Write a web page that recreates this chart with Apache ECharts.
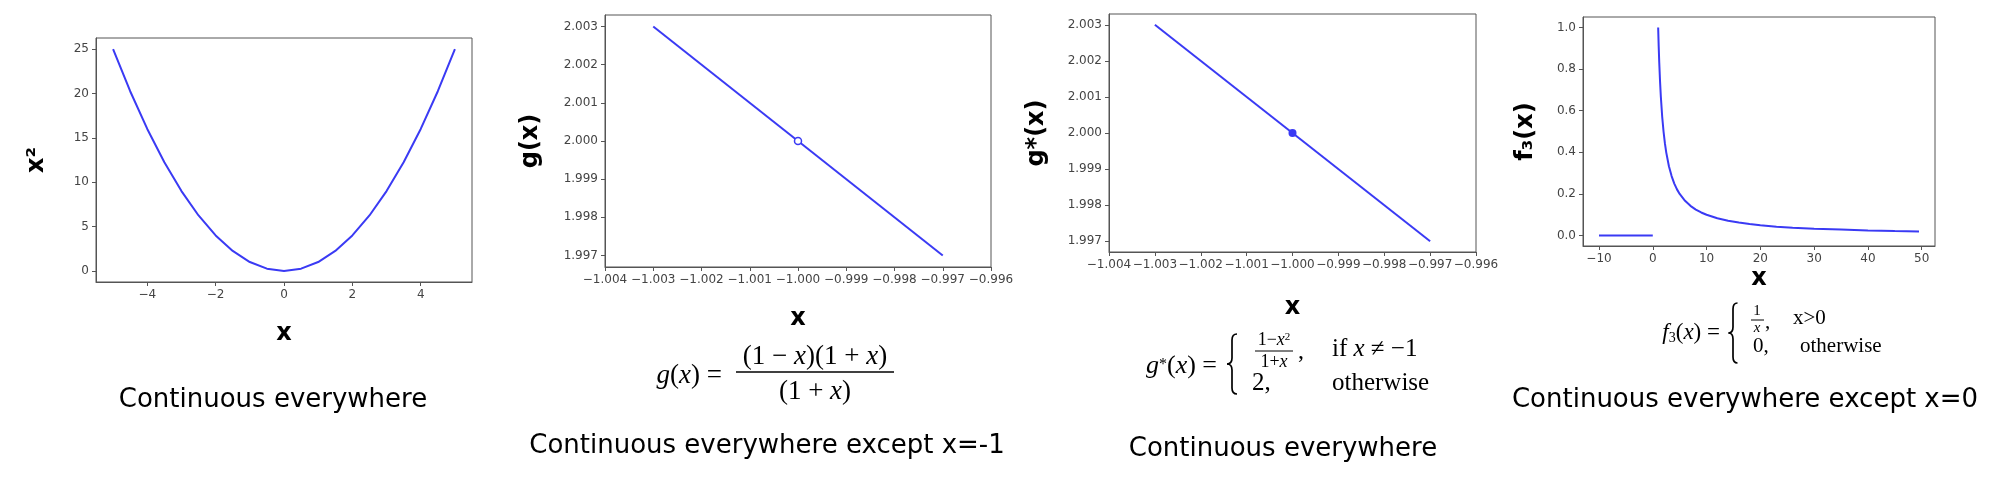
<!DOCTYPE html>
<html>
<head>
<meta charset="utf-8">
<script src="https://cdn.jsdelivr.net/npm/echarts@6/dist/echarts.min.js"></script>
<style>
  html, body { margin: 0; padding: 0; background: #fff; }
  #chart { width: 2014px; height: 480px; }
</style>
</head>
<body>
<div id="chart"></div>
<script>
// ---------------- data ----------------
// Panel 1: x^2
const p1X = [-5, -4.5, -4, -3.5, -3, -2.5, -2, -1.5, -1, -0.5, 0, 0.5, 1, 1.5, 2, 2.5, 3, 3.5, 4, 4.5, 5];
const p1Y = [25, 20.25, 16, 12.25, 9, 6.25, 4, 2.25, 1, 0.25, 0, 0.25, 1, 2.25, 4, 6.25, 9, 12.25, 16, 20.25, 25];
const p1XTicks = [-4, -2, 0, 2, 4];
const p1YTicks = [0, 5, 10, 15, 20, 25];

// Panel 2: g(x) with a hole at x = -1
const p2X = [-1.003, -0.997];
const p2Y = [2.003, 1.997];
const p2HoleX = [-1.000];
const p2HoleY = [2.000];

// Panel 3: g*(x) with the point filled at x = -1
const p3X = [-1.003, -0.997];
const p3Y = [2.003, 1.997];
const p3DotX = [-1.000];
const p3DotY = [2.000];

const p23XTicks = [-1.004, -1.003, -1.002, -1.001, -1.000, -0.999, -0.998, -0.997, -0.996];
const p23YTicks = [1.997, 1.998, 1.999, 2.000, 2.001, 2.002, 2.003];

// Panel 4: f3(x)
const p4FlatX = [-10, 0];
const p4FlatY = [0, 0];
const p4CurveX = [1, 1.1, 1.2, 1.35, 1.5, 1.75, 2, 2.25, 2.5, 3, 3.5, 4, 4.5, 5, 6, 7, 8, 9, 10, 12, 14, 16, 18, 20, 23, 26, 30, 35, 40, 45, 49.5];
const p4CurveY = [1, 0.909, 0.833, 0.741, 0.667, 0.571, 0.5, 0.444, 0.4, 0.333, 0.286, 0.25, 0.222, 0.2, 0.167, 0.143, 0.125, 0.111, 0.1, 0.083, 0.071, 0.063, 0.056, 0.05, 0.043, 0.038, 0.033, 0.029, 0.025, 0.022, 0.020];
const p4XTicks = [-10, 0, 10, 20, 30, 40, 50];
const p4YTicks = [0, 0.2, 0.4, 0.6, 0.8, 1.0];

// Texts
const yNames = ['x²', 'g(x)', 'g*(x)', 'f₃(x)'];
const xNames = ['x', 'x', 'x', 'x'];
const captions = ['Continuous everywhere', 'Continuous everywhere except x=-1', 'Continuous everywhere', 'Continuous everywhere except x=0'];

// ---------------- helpers ----------------
const BLUE = '#3a3af4';
const FRAME = '#555';
const zip = (xs, ys) => xs.map((x, i) => [x, ys[i]]);
const fmt = (d) => (v) => (v < 0 ? '\u2212' : '') + Math.abs(v).toFixed(d);

const grids = [
  { left: 96, top: 38, width: 376, height: 244 },
  { left: 605, top: 15, width: 386, height: 252 },
  { left: 1109, top: 14, width: 367, height: 238 },
  { left: 1583, top: 17, width: 352, height: 229 }
];

const NAME_STYLE = { fontFamily: 'DejaVu Sans', fontWeight: 'bold', fontSize: 24, color: '#000' };
const LABEL_STYLE = { color: '#444', fontFamily: 'DejaVu Sans', fontSize: 12 };

function xAxis(i, min, max, ticks, dec, nameGap) {
  return {
    type: 'value', gridIndex: i, min, max,
    name: xNames[i], nameLocation: 'middle', nameGap, nameTextStyle: NAME_STYLE,
    axisLine: { show: true, onZero: false, lineStyle: { color: FRAME, width: 1 } },
    axisTick: { show: true, inside: false, length: 4, customValues: ticks, lineStyle: { color: FRAME } },
    axisLabel: Object.assign({ show: true, margin: 7, customValues: ticks, formatter: fmt(dec) }, LABEL_STYLE),
    splitLine: { show: false }
  };
}
function yAxis(i, min, max, ticks, dec, nameGap) {
  return {
    type: 'value', gridIndex: i, min, max,
    name: yNames[i], nameLocation: 'middle', nameGap, nameTextStyle: NAME_STYLE,
    axisLine: { show: true, onZero: false, lineStyle: { color: FRAME, width: 1 } },
    axisTick: { show: true, inside: false, length: 4, customValues: ticks, lineStyle: { color: FRAME } },
    axisLabel: Object.assign({ show: true, margin: 7, customValues: ticks, formatter: fmt(dec) }, LABEL_STYLE),
    splitLine: { show: false }
  };
}
function lineSeries(i, data) {
  return {
    type: 'line', xAxisIndex: i, yAxisIndex: i, data, showSymbol: false, symbol: 'none',
    lineStyle: { color: BLUE, width: 2 }, itemStyle: { color: BLUE }, z: 2, animation: false
  };
}

// ---------------- text overlays (captions, formulas) ----------------
const SERIF = 'Liberation Serif';
function txt(x, y, text, size, opts = {}) {
  return {
    type: 'text', x, y, z: 10,
    style: Object.assign({
      text, fill: '#000', fontSize: size, fontFamily: opts.family || SERIF,
      fontStyle: opts.italic ? 'italic' : 'normal',
      align: opts.align || 'left', verticalAlign: 'middle'
    }, opts.rich ? { rich: opts.rich } : {})
  };
}
function bar(x1, x2, y, w) {
  return { type: 'line', z: 10, shape: { x1, y1: y, x2, y2: y }, style: { stroke: '#000', lineWidth: w || 1.2 } };
}
// curly brace built from lines and quadratic curves
function brace(cx, top, bottom, w) {
  const mid = (top + bottom) / 2;
  const r = 6;
  const st = { stroke: '#000', fill: null, lineWidth: 1.7 };
  const bz = (x1, y1, cpx1, cpy1, x2, y2) => ({ type: 'bezierCurve', z: 10, shape: { x1, y1, cpx1, cpy1, x2, y2 }, style: st });
  const ln = (x1, y1, x2, y2) => ({ type: 'line', z: 10, shape: { x1, y1, x2, y2 }, style: st });
  return [
    bz(cx + w, top, cx, top, cx, top + r),
    ln(cx, top + r, cx, mid - r),
    bz(cx, mid - r, cx, mid, cx - w, mid),
    bz(cx - w, mid, cx, mid, cx, mid + r),
    ln(cx, mid + r, cx, bottom - r),
    bz(cx, bottom - r, cx, bottom, cx + w, bottom)
  ];
}
function richI(size) {
  return {
    i: { fontStyle: 'italic', fontFamily: SERIF, fontSize: size, fill: '#000' },
    n: { fontStyle: 'normal', fontFamily: SERIF, fontSize: size, fill: '#000' },
    s: { fontStyle: 'normal', fontFamily: SERIF, fontSize: Math.round(size * 0.62), fill: '#000', verticalAlign: 'bottom', padding: [0, 0, 6, 0] },
    b: { fontStyle: 'normal', fontFamily: SERIF, fontSize: Math.round(size * 0.62), fill: '#000', verticalAlign: 'top', padding: [10, 0, 0, 0] }
  };
}
const HAND = 'DejaVu Sans';
const graphics = [
  // captions
  txt(273, 400, captions[0], 26, { family: HAND, align: 'center' }),
  txt(767, 446, captions[1], 26, { family: HAND, align: 'center' }),
  txt(1283, 449, captions[2], 26, { family: HAND, align: 'center' }),
  txt(1745, 400, captions[3], 26, { family: HAND, align: 'center' }),

  // panel 2 formula
  txt(722, 376, '{i|g}{n|(}{i|x}{n|) =}', 27, { align: 'right', rich: richI(27) }),
  txt(815, 357, '{n|(1 \u2212 }{i|x}{n|)(1 + }{i|x}{n|)}', 27, { align: 'center', rich: richI(27) }),
  bar(736, 894, 372, 1.4),
  txt(815, 392, '{n|(1 + }{i|x}{n|)}', 27, { align: 'center', rich: richI(27) }),

  // panel 3 formula
  txt(1217, 366, '{i|g}{s|*}{n|(}{i|x}{n|) =}', 26, { align: 'right', rich: richI(26) }),
  ...brace(1232, 334, 394, 5),
  txt(1274, 340, '{n|1\u2212}{i|x}{s|2}', 18, { align: 'center', rich: richI(18) }),
  bar(1255, 1293, 351, 1),
  txt(1274, 362, '{n|1+}{i|x}', 18, { align: 'center', rich: richI(18) }),
  txt(1298, 352, ',', 24),
  txt(1332, 349, '{n|if }{i|x}{n| \u2260 \u22121}', 25, { rich: richI(25) }),
  txt(1252, 383, '2,', 25),
  txt(1332, 383, 'otherwise', 25),

  // panel 4 formula
  txt(1720, 333, '{i|f}{b|3}{n|(}{i|x}{n|) =}', 23, { align: 'right', rich: richI(23) }),
  ...brace(1733, 303, 363, 4.5),
  txt(1757, 311, '1', 15, { align: 'center' }),
  bar(1751, 1764, 320, 1),
  txt(1757, 328, 'x', 15, { align: 'center', italic: true }),
  txt(1765, 322, ',', 21),
  txt(1793, 318, 'x>0', 21),
  txt(1753, 346, '0,', 21),
  txt(1800, 346, 'otherwise', 21)
];

const option = {
  backgroundColor: '#fff',
  animation: false,
  grid: grids.map(g => Object.assign({ show: true, borderColor: FRAME, borderWidth: 1, backgroundColor: 'transparent', containLabel: false }, g)),
  xAxis: [
    xAxis(0, -5.5, 5.5, p1XTicks, 0, 40),
    xAxis(1, -1.004, -0.996, p23XTicks, 3, 40),
    xAxis(2, -1.004, -0.996, p23XTicks, 3, 44),
    xAxis(3, -12.975, 52.475, p4XTicks, 0, 21)
  ],
  yAxis: [
    yAxis(0, -1.25, 26.25, p1YTicks, 0, 47),
    yAxis(1, 1.9967, 2.0033, p23YTicks, 3, 62),
    yAxis(2, 1.9967, 2.0033, p23YTicks, 3, 60),
    yAxis(3, -0.05, 1.05, p4YTicks, 1, 45)
  ],
  series: [
    lineSeries(0, zip(p1X, p1Y)),
    lineSeries(1, zip(p2X, p2Y)),
    {
      type: 'scatter', xAxisIndex: 1, yAxisIndex: 1, data: zip(p2HoleX, p2HoleY),
      symbol: 'circle', symbolSize: 7, z: 5,
      itemStyle: { color: '#fff', borderColor: BLUE, borderWidth: 1.5, opacity: 1 }
    },
    lineSeries(2, zip(p3X, p3Y)),
    {
      type: 'scatter', xAxisIndex: 2, yAxisIndex: 2, data: zip(p3DotX, p3DotY),
      symbol: 'circle', symbolSize: 8, z: 5,
      itemStyle: { color: BLUE, opacity: 1 }
    },
    lineSeries(3, zip(p4FlatX, p4FlatY)),
    lineSeries(3, zip(p4CurveX, p4CurveY))
  ],
  graphic: graphics
};

const chart = echarts.init(document.getElementById('chart'), null, { renderer: 'canvas' });
chart.setOption(option);
</script>
</body>
</html>
